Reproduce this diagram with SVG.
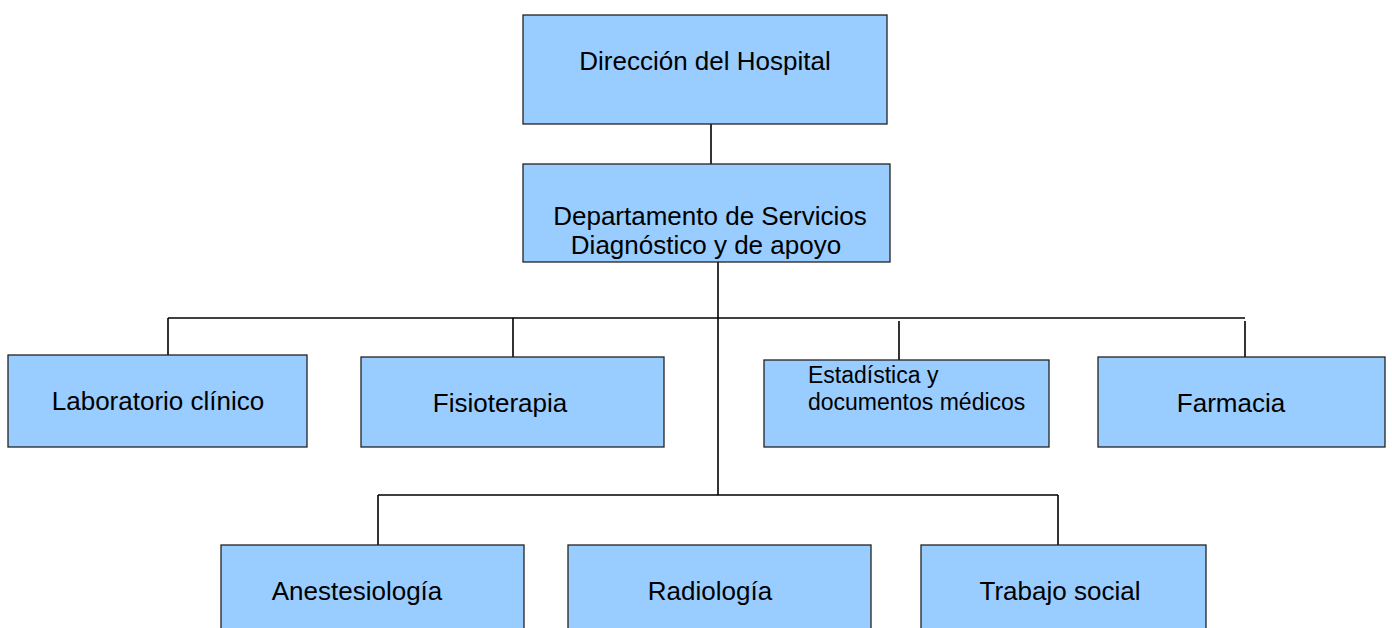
<svg xmlns="http://www.w3.org/2000/svg" width="1392" height="628" viewBox="0 0 1392 628">
<style>
.box{fill:#99ccff;stroke:#222;stroke-width:1.3}
.t{font-family:"Liberation Sans",Arial,sans-serif;font-size:26px;fill:#000;text-anchor:middle}
.s{font-family:"Liberation Sans",Arial,sans-serif;font-size:23px;fill:#000}
.c{stroke:#000;stroke-width:1.6;fill:none}
</style>
<rect width="1392" height="628" fill="#fff"/>
<g id="connectors">
<path class="c" d="M711 124V164"/>
<path class="c" d="M718 262V495"/>
<path class="c" d="M168 318H1245"/>
<path class="c" d="M168 318V355M513 318V357M899 321V360M1245 321V360"/>
<path class="c" d="M378 495H1058M378 495V545M1058 495V545"/>
</g>
<g id="n1"><rect class="box" x="523" y="15" width="364" height="109"/><text class="t" x="705" y="70">Dirección del Hospital</text></g>
<g id="n2"><rect class="box" x="523" y="164" width="367" height="98"/><text class="t" x="710" y="225">Departamento de Servicios</text><text class="t" x="706" y="254">Diagnóstico y de apoyo</text></g>
<g id="n3"><rect class="box" x="8" y="355" width="299" height="92"/><text class="t" x="158" y="410">Laboratorio clínico</text></g>
<g id="n4"><rect class="box" x="361" y="357" width="303" height="90"/><text class="t" x="500" y="412">Fisioterapia</text></g>
<g id="n5"><rect class="box" x="764" y="360" width="285" height="87"/><text class="s" x="808" y="383">Estadística y</text><text class="s" x="808" y="410">documentos médicos</text></g>
<g id="n6"><rect class="box" x="1098" y="357" width="287" height="90"/><text class="t" x="1231" y="412">Farmacia</text></g>
<g id="n7"><rect class="box" x="221" y="545" width="303" height="90"/><text class="t" x="357" y="600">Anestesiología</text></g>
<g id="n8"><rect class="box" x="568" y="545" width="303" height="90"/><text class="t" x="710" y="600">Radiología</text></g>
<g id="n9"><rect class="box" x="921" y="545" width="285" height="90"/><text class="t" x="1060" y="600">Trabajo social</text></g>
</svg>
